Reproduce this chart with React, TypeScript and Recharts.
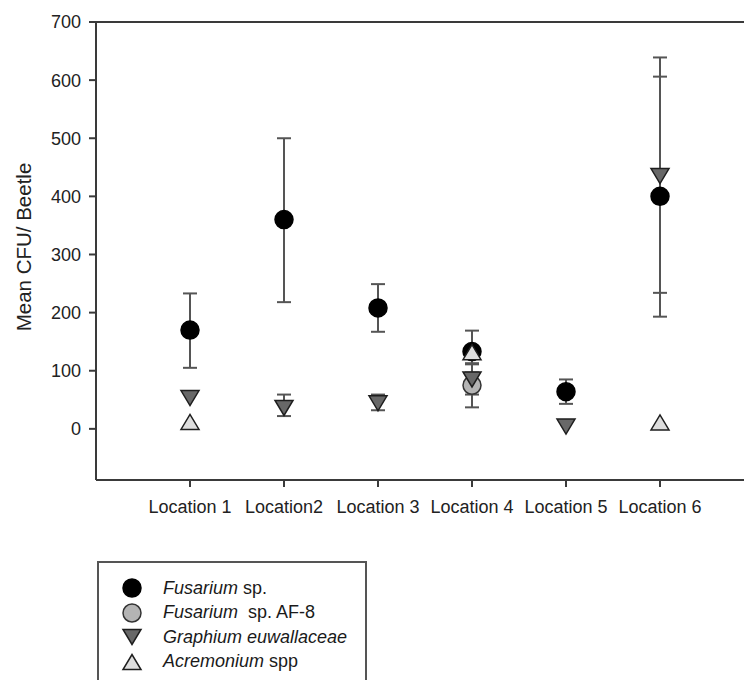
import React from "react";
import {
  ScatterChart,
  Scatter,
  XAxis,
  YAxis,
  ErrorBar,
  ReferenceLine,
  Legend,
  Label,
} from "recharts";

// Mean CFU per beetle, by location
const categories = ["Location 1", "Location2", "Location 3", "Location 4", "Location 5", "Location 6"];

const fusarium = [170, 360, 208, 133, 64, 400];
const fusariumErrLow = [65, 142, 41, 36, 21, 207];
const fusariumErrHigh = [63, 140, 41, 36, 21, 206];

const fusariumAF8 = [null, null, null, 75, null, null];
const fusariumAF8ErrLow = [null, null, null, 38, null, null];
const fusariumAF8ErrHigh = [null, null, null, 38, null, null];

const graphium = [53, 36, 44, 85, 4, 435];
const graphiumErrLow = [null, 14, 12, 26, null, 201];
const graphiumErrHigh = [null, 23, 15, 26, null, 204];

const acremonium = [12, null, null, 132, null, 11];

const yTicks = [0, 100, 200, 300, 400, 500, 600, 700];
const xTicks = [1, 2, 3, 4, 5, 6];

const FONT = '"Liberation Sans", Arial, Helvetica, sans-serif';
const AXIS = "#3a3a3a";

type Kind = "circle" | "down" | "up";

const toData = (
  values: (number | null)[],
  low?: (number | null)[],
  high?: (number | null)[]
) =>
  values
    .map((v, i) => ({
      x: i + 1,
      y: v,
      err: low && low[i] != null && high ? [low[i], high[i]] : null,
    }))
    .filter((d) => d.y != null);

const series = [
  { key: "fus", kind: "circle" as Kind, fill: "#000000", stroke: "#000000", data: toData(fusarium, fusariumErrLow, fusariumErrHigh) },
  { key: "af8", kind: "circle" as Kind, fill: "#b4b4b4", stroke: "#333333", data: toData(fusariumAF8, fusariumAF8ErrLow, fusariumAF8ErrHigh) },
  { key: "gra", kind: "down" as Kind, fill: "#686868", stroke: "#1e1e1e", data: toData(graphium, graphiumErrLow, graphiumErrHigh) },
  { key: "acr", kind: "up" as Kind, fill: "#dedede", stroke: "#1e1e1e", data: toData(acremonium) },
];

const legendItems: { kind: Kind; fill: string; stroke: string; italic: string; rest: string }[] = [
  { kind: "circle", fill: "#000000", stroke: "#000000", italic: "Fusarium", rest: " sp." },
  { kind: "circle", fill: "#b4b4b4", stroke: "#333333", italic: "Fusarium", rest: "  sp. AF-8" },
  { kind: "down", fill: "#686868", stroke: "#1e1e1e", italic: "Graphium euwallaceae", rest: "" },
  { kind: "up", fill: "#dedede", stroke: "#1e1e1e", italic: "Acremonium", rest: " spp" },
];

function markerPath(kind: Kind, cx: number, cy: number, fill: string, stroke: string) {
  if (kind === "circle") {
    return <circle cx={cx} cy={cy} r={9} fill={fill} stroke={stroke} strokeWidth={1.5} />;
  }
  const h = 7.5;
  const w = 9;
  const pts =
    kind === "down"
      ? `${cx - w},${cy - h} ${cx + w},${cy - h} ${cx},${cy + h}`
      : `${cx - w},${cy + h} ${cx + w},${cy + h} ${cx},${cy - h}`;
  return <polygon points={pts} fill={fill} stroke={stroke} strokeWidth={1.5} strokeLinejoin="miter" />;
}

const makeShape = (kind: Kind, fill: string, stroke: string) => (props: any) => {
  const { cx, cy } = props;
  if (cx == null || cy == null) return <g />;
  return markerPath(kind, cx, cy, fill, stroke);
};

const emptyShape = () => <g />;

function LegendBox() {
  return (
    <div
      style={{
        border: "2px solid #555",
        boxSizing: "border-box",
        width: 270,
        height: 160,
        paddingTop: 13,
        fontFamily: FONT,
        fontSize: 18,
        color: "#1a1a1a",
        background: "#fff",
      }}
    >
      {legendItems.map((it, i) => (
        <div key={i} style={{ display: "flex", alignItems: "center", height: 24.5, whiteSpace: "pre" }}>
          <svg width={64} height={24} style={{ flex: "none" }}>
            {markerPath(it.kind, 33, 12, it.fill, it.stroke)}
          </svg>
          <span style={{ fontStyle: "italic" }}>{it.italic}</span>
          <span>{it.rest}</span>
        </div>
      ))}
    </div>
  );
}

export default function App() {
  return (
    <div
      style={{
        position: "absolute",
        left: 0,
        top: 0,
        width: 744,
        height: 680,
        overflow: "hidden",
        background: "#fff",
        fontFamily: FONT,
      }}
    >
      <ScatterChart width={760} height={680} margin={{ top: 22, right: 6, left: 0, bottom: 170 }}>
        <XAxis
          type="number"
          dataKey="x"
          domain={[0, 7]}
          ticks={xTicks}
          tickFormatter={(v: number) => categories[v - 1] ?? ""}
          allowDataOverflow
          height={30}
          tickSize={7}
          tickMargin={13}
          stroke={AXIS}
          strokeWidth={2}
          tick={{ fontSize: 18, fill: "#222", fontFamily: FONT }}
        />
        <YAxis
          type="number"
          dataKey="y"
          domain={[-88, 700]}
          ticks={yTicks}
          allowDataOverflow
          width={96}
          tickSize={7}
          tickMargin={8}
          stroke={AXIS}
          strokeWidth={2}
          tick={{ fontSize: 18, fill: "#222", fontFamily: FONT }}
        >
          <Label
            content={() => (
              <text
                x={31}
                y={247}
                transform="rotate(-90 31 247)"
                textAnchor="middle"
                fontSize={20.5}
                fill="#222"
                fontFamily={FONT}
              >
                Mean CFU/ Beetle
              </text>
            )}
          />
        </YAxis>
        <ReferenceLine y={700} stroke={AXIS} strokeWidth={2} />
        {series.map((s) => (
          <Scatter key={`err-${s.key}`} data={s.data} shape={emptyShape} isAnimationActive={false}>
            <ErrorBar dataKey="err" direction="y" width={7} stroke="#555" strokeWidth={2} />
          </Scatter>
        ))}
        {series.map((s) => (
          <Scatter
            key={s.key}
            data={s.data}
            shape={makeShape(s.kind, s.fill, s.stroke)}
            isAnimationActive={false}
          />
        ))}
        <Legend
          layout="vertical"
          align="center"
          verticalAlign="middle"
          content={() => <LegendBox />}
          wrapperStyle={{ left: 97, top: 561, width: 270, height: 160 }}
        />
      </ScatterChart>
    </div>
  );
}
